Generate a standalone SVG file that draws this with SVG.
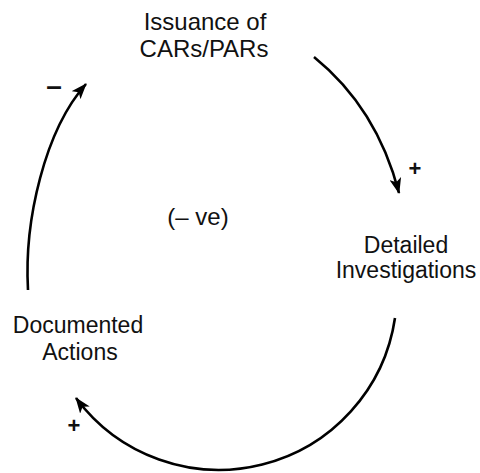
<svg xmlns="http://www.w3.org/2000/svg" width="480" height="473" viewBox="0 0 480 473">
  <style>
    .label { font-family: "Liberation Sans", Arial, sans-serif; font-size: 23px; fill: #111; text-anchor: middle; }
    .label.big { font-size: 24px; }
    .sign { font-family: "Liberation Sans", Arial, sans-serif; font-size: 22px; font-weight: bold; fill: #111; text-anchor: middle; }
    .sign.dash { font-size: 28px; }
    .link { fill: none; stroke: #000; stroke-width: 2.6; marker-end: url(#head); }
  </style>
  <defs>
    <marker id="head" viewBox="0 0 16 12" refX="15" refY="6" markerWidth="16" markerHeight="12" markerUnits="userSpaceOnUse" orient="auto">
      <path d="M0,0 L16,6 L0,12 L4,6 Z" fill="#000"/>
    </marker>
  </defs>

  <rect width="480" height="473" fill="#fff"/>

  <g id="connectors">
    <path class="link" d="M314,57 Q377,108 399,193"/>
    <path class="link" d="M395,318 A178,178 0 0 1 76,398"/>
    <path class="link" d="M28,290 C24,220 45,130 86,84"/>
  </g>

  <g id="node-issuance">
    <text class="label big" x="205" y="30">Issuance of</text>
    <text class="label big" x="204" y="57">CARs/PARs</text>
  </g>
  <g id="node-investigations">
    <text class="label" x="406" y="253">Detailed</text>
    <text class="label" x="406" y="278">Investigations</text>
  </g>
  <g id="node-actions">
    <text class="label" x="78" y="333">Documented</text>
    <text class="label" x="80" y="360">Actions</text>
  </g>

  <g id="polarities">
    <text class="sign" x="415" y="176">+</text>
    <text class="sign" x="74" y="433">+</text>
    <text class="sign dash" x="54" y="95">–</text>
  </g>

  <g id="loop-type">
    <text class="label big" x="198" y="225">(– ve)</text>
  </g>
</svg>
